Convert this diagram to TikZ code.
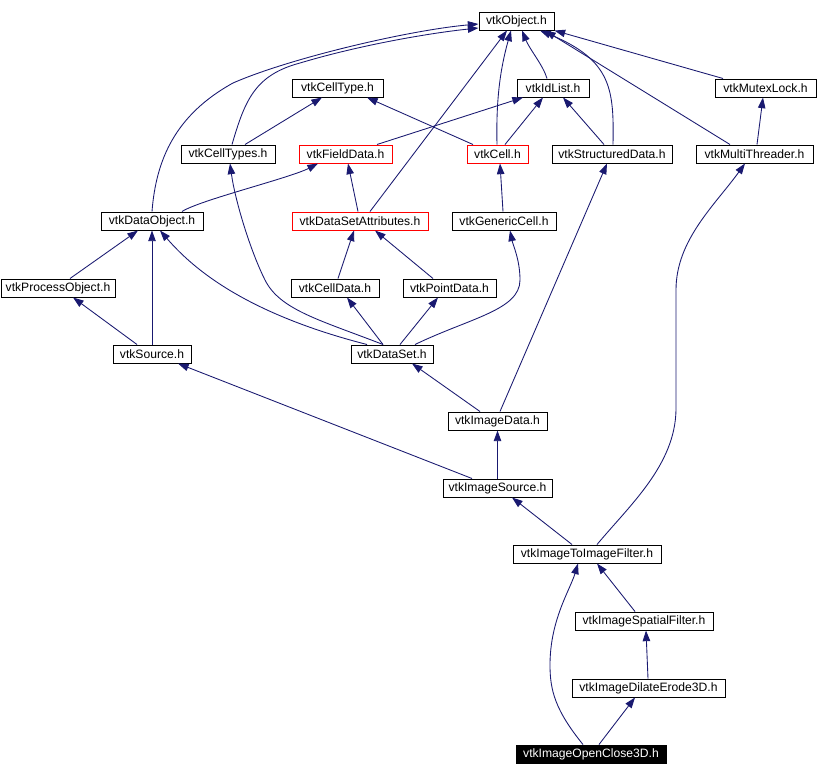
\documentclass[tikz,border=0pt]{standalone}
\usepackage{xcolor}
\usepackage{fontspec}
\setmainfont{Liberation Sans}
\usepackage{tikz}
\usetikzlibrary{arrows.meta,calc}
\definecolor{DoxyEdge}{RGB}{25, 25, 112}
\definecolor{DoxyRed}{RGB}{255, 0, 0}

\begin{document}
\begin{tikzpicture}[x=0.75pt, y=-0.75pt]
  \tikzstyle{file} = [rectangle, draw=black, fill=white, line width=0.75pt, inner sep=0pt, minimum height=13.5pt, font=\fontsize{9.1}{10}\selectfont]
  \tikzstyle{badfile} = [file, draw=DoxyRed]
  \tikzstyle{mainfile} = [file, fill=black, text=white]
  \tikzstyle{line} = [draw=DoxyEdge, line width=0.65pt, -{Triangle[length=8pt, width=5.6pt]}]

  \useasboundingbox (0,0) rectangle (818,776);

  \node [file, minimum width=56.25pt] (obj) at (516.5,21) {vtkObject.h};
  \node [file, minimum width=68.25pt] (celltype) at (337.5,88) {vtkCellType.h};
  \node [file, minimum width=54pt] (idlist) at (553,88) {vtkIdList.h};
  \node [file, minimum width=75.75pt] (mutex) at (765.5,88) {vtkMutexLock.h};
  \node [file, minimum width=70.5pt] (celltypes) at (228,154) {vtkCellTypes.h};
  \node [badfile, minimum width=69.75pt] (fielddata) at (345.5,154) {vtkFieldData.h};
  \node [badfile, minimum width=45.75pt] (cell) at (497.5,154) {vtkCell.h};
  \node [file, minimum width=90pt] (structdata) at (612,154) {vtkStructuredData.h};
  \node [file, minimum width=87.75pt] (multithr) at (754.5,154) {vtkMultiThreader.h};
  \node [file, minimum width=76.5pt] (dataobject) at (152,221) {vtkDataObject.h};
  \node [badfile, minimum width=102pt] (dsattr) at (360,221) {vtkDataSetAttributes.h};
  \node [file, minimum width=78pt] (genericcell) at (504,221) {vtkGenericCell.h};
  \node [file, minimum width=85.5pt] (procobj) at (58,288) {vtkProcessObject.h};
  \node [file, minimum width=66pt] (celldata) at (335,288) {vtkCellData.h};
  \node [file, minimum width=69.75pt] (pointdata) at (449.5,288) {vtkPointData.h};
  \node [file, minimum width=58.5pt] (source) at (152,354) {vtkSource.h};
  \node [file, minimum width=61.5pt] (dataset) at (392,354) {vtkDataSet.h};
  \node [file, minimum width=74.25pt] (imagedata) at (497.5,421) {vtkImageData.h};
  \node [file, minimum width=81.75pt] (imagesource) at (497.5,488) {vtkImageSource.h};
  \node [file, minimum width=111pt] (i2i) at (587,554) {vtkImageToImageFilter.h};
  \node [file, minimum width=103.5pt] (spatial) at (644,621) {vtkImageSpatialFilter.h};
  \node [file, minimum width=114.75pt] (dilate) at (648.5,688) {vtkImageDilateErode3D.h};
  \node [mainfile, minimum width=112.5pt] (openclose) at (591,754) {vtkImageOpenClose3D.h};

  \path [line] (dataobject.north) .. controls (156,160) and (175,115) .. (233,83) .. controls (290,58) and (410,30) .. ($(obj.west)+(0,3)$);
  \path [line] ($(celltypes.north)+(4,0)$) .. controls (245,100) and (255,75) .. (300,63) .. controls (360,45) and (430,33) .. ($(obj.west)+(0,7)$);
  \path [line] ($(celltypes.north)+(17,0)$) -- ($(celltype.south)+(-15.5,0)$);
  \path [line] ($(cell.north)+(-24.5,0)$) -- ($(celltype.south)+(29.5,0)$);
  \path [line] ($(fielddata.north)+(31.5,0)$) -- ($(idlist.south)+(-30,0)$);
  \path [line] ($(cell.north)+(7.5,0)$) -- ($(idlist.south)+(-10,0)$);
  \path [line] ($(cell.north)+(-0.5,0)$) .. controls (496,100) and (500,70) .. ($(obj.south)+(-5.5,0)$);
  \path [line] ($(idlist.north)+(-6,0)$) .. controls (543,65) and (530,50) .. ($(obj.south)+(5.5,0)$);
  \path [line] ($(structdata.north)+(-8,0)$) -- ($(idlist.south)+(10,0)$);
  \path [line] ($(structdata.north)+(1,0)$) .. controls (614,90) and (612,60) .. ($(obj.south)+(23.5,0)$);
  \path [line] ($(multithr.north)+(-24.5,0)$) -- ($(obj.south)+(28.5,0)$);
  \path [line] ($(mutex.north)+(-42.5,0)$) -- (obj.south east);
  \path [line] ($(multithr.north)+(2.5,0)$) -- ($(mutex.south)+(-2.5,0)$);
  \path [line] ($(dsattr.north)+(10,0)$) -- ($(obj.south)+(-9.5,0)$);
  \path [line] ($(dsattr.north)+(-2,0)$) -- ($(fielddata.south)+(2.5,0)$);
  \path [line] ($(dataobject.north)+(30,0)$) .. controls (200,200) and (290,178) .. ($(fielddata.south)+(-27.5,0)$);
  \path [line] ($(genericcell.north)+(-1,0)$) -- ($(cell.south)+(2.5,0)$);
  \path [line] ($(procobj.north)+(12,0)$) -- ($(dataobject.south)+(-14,0)$);
  \path [line] (source.north) -- (dataobject.south);
  \path [line] ($(source.north)+(-15,0)$) -- ($(procobj.south)+(15,0)$);
  \path [line] ($(dataset.north)+(-25,0)$) .. controls (240,312) and (190,265) .. ($(dataobject.south)+(8,0)$);
  \path [line] ($(dataset.north)+(-9,0)$) .. controls (320,320) and (280,310) .. (265,280) .. controls (250,250) and (235,200) .. ($(celltypes.south)+(2,0)$);
  \path [line] ($(celldata.north)+(3,0)$) -- ($(dsattr.south)+(-6,0)$);
  \path [line] ($(pointdata.north)+(-16.5,0)$) -- ($(dsattr.south)+(15,0)$);
  \path [line] ($(dataset.north)+(-9,0)$) -- ($(celldata.south)+(12,0)$);
  \path [line] ($(dataset.north)+(8,0)$) -- ($(pointdata.south)+(-11.5,0)$);
  \path [line] ($(dataset.north)+(23,0)$) .. controls (470,318) and (520,310) .. (520,280) .. controls (520,260) and (513,245) .. ($(genericcell.south)+(6,0)$);
  \path [line] ($(imagedata.north)+(-17.5,0)$) -- ($(dataset.south)+(20,0)$);
  \path [line] ($(imagedata.north)+(2.5,0)$) -- ($(structdata.south)+(-5,0)$);
  \path [line] (imagesource.north) -- (imagedata.south);
  \path [line] ($(imagesource.north)+(-25.5,0)$) -- ($(source.south)+(26,0)$);
  \path [line] ($(i2i.north)+(-15,0)$) -- ($(imagesource.south)+(14.5,0)$);
  \path [line] ($(i2i.north)+(10,0)$) .. controls (630,505) and (675,465) .. (676,410) -- (676,290) .. controls (676,240) and (715,205) .. ($(multithr.south)+(-9.5,0)$);
  \path [line] ($(spatial.north)+(-9,0)$) -- ($(i2i.south)+(10,0)$);
  \path [line] ($(dilate.north)+(-0.5,0)$) -- ($(spatial.south)+(2,0)$);
  \path [line] ($(openclose.north)+(-8,0)$) .. controls (555,710) and (550,690) .. (550,665) .. controls (550,620) and (570,590) .. ($(i2i.south)+(-9,0)$);
  \path [line] ($(openclose.north)+(8,0)$) -- ($(dilate.south)+(-13.5,0)$);
\end{tikzpicture}
\end{document}
